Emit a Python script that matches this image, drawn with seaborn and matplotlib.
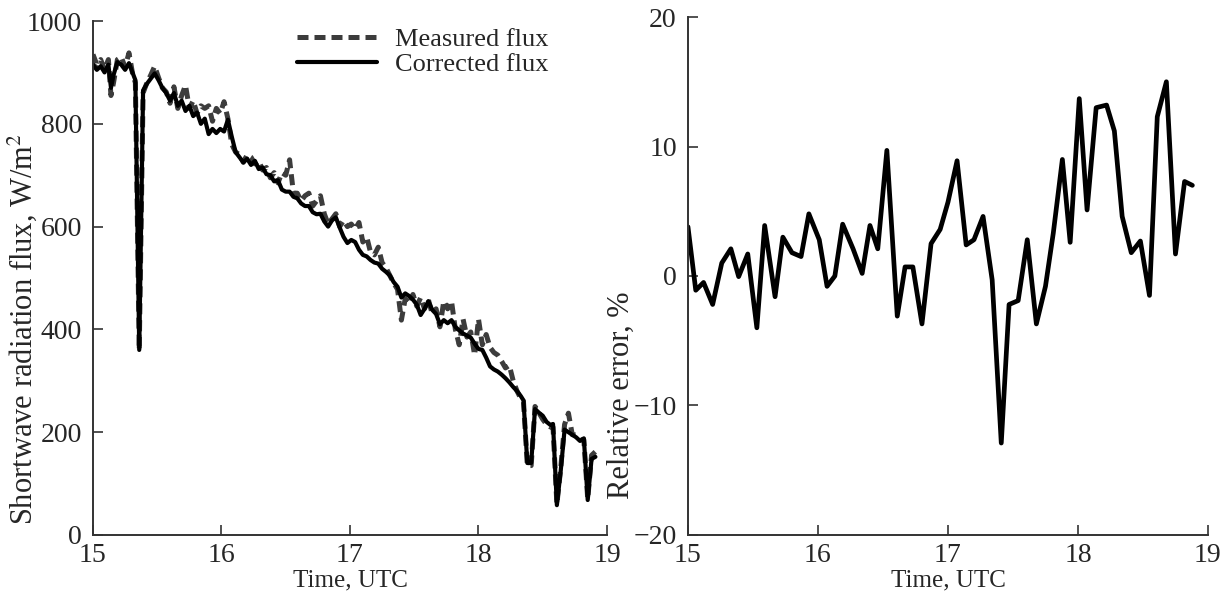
import numpy as np
import pandas as pd
import seaborn as sns
import matplotlib.pyplot as plt

# Left panel: shortwave flux (time in hours UTC)
t_flux = [15.00, 15.03, 15.06, 15.09, 15.12, 15.14, 15.16, 15.19, 15.22, 15.25,
          15.28, 15.31, 15.33, 15.36, 15.39, 15.42, 15.45, 15.48, 15.51, 15.54,
          15.57, 15.60, 15.63, 15.66, 15.69, 15.72, 15.75, 15.78, 15.81, 15.84,
          15.87, 15.90, 15.93, 15.96, 15.99, 16.02, 16.05, 16.08, 16.11, 16.14,
          16.17, 16.20, 16.23, 16.26, 16.29, 16.32, 16.35, 16.38, 16.41, 16.44,
          16.47, 16.50, 16.53, 16.56, 16.59, 16.62, 16.65, 16.68, 16.71, 16.74,
          16.77, 16.80, 16.83, 16.86, 16.89, 16.92, 16.95, 16.98, 17.01, 17.04,
          17.07, 17.10, 17.13, 17.16, 17.19, 17.22, 17.25, 17.28, 17.31, 17.34,
          17.37, 17.40, 17.43, 17.46, 17.49, 17.52, 17.55, 17.58, 17.61, 17.64,
          17.67, 17.70, 17.73, 17.76, 17.79, 17.82, 17.85, 17.88, 17.91, 17.94,
          17.97, 18.00, 18.03, 18.06, 18.09, 18.12, 18.15, 18.18, 18.21, 18.24,
          18.27, 18.30, 18.33, 18.35, 18.38, 18.41, 18.44, 18.47, 18.50, 18.53,
          18.56, 18.58, 18.61, 18.64, 18.67, 18.70, 18.73, 18.76, 18.79, 18.82,
          18.85, 18.88, 18.91]

corrected = [915, 905, 912, 900, 915, 870, 895, 920, 915, 905,
             918, 898, 885, 360, 865, 878, 888, 898, 885, 870,
             860, 845, 860, 835, 845, 825, 835, 815, 822, 800,
             810, 780, 790, 782, 790, 785, 808, 775, 745, 735,
             725, 732, 720, 728, 712, 715, 702, 700, 688, 690,
             672, 668, 668, 658, 655, 645, 640, 640, 628, 624,
             625, 610, 600, 612, 618, 598, 580, 568, 574, 570,
             555, 545, 542, 535, 530, 528, 518, 512, 505, 492,
             483, 462, 470, 465, 458, 448, 428, 440, 455, 438,
             430, 410, 418, 412, 418, 405, 398, 392, 388, 384,
             372, 362, 360, 345, 328, 322, 318, 312, 305, 297,
             288, 280, 270, 262, 140, 140, 245, 238, 232, 220,
             214, 216, 58, 125, 205, 200, 195, 190, 183, 188,
             68, 148, 152]

measured = [935, 915, 925, 905, 925, 855, 880, 925, 930, 910,
            938, 895, 880, 360, 860, 880, 895, 912, 890, 870,
            862, 840, 872, 830, 855, 875, 830, 845, 820, 835,
            830, 835, 805, 830, 820, 843, 810, 760, 745, 740,
            725, 740, 735, 722, 728, 710, 715, 695, 705, 685,
            705, 700, 730, 665, 665, 650, 660, 665, 640, 650,
            660, 625, 605, 615, 625, 600, 612, 600, 605, 595,
            608, 570, 580, 550, 545, 560, 530, 520, 505, 490,
            478, 418, 460, 450, 468, 445, 462, 440, 458, 430,
            440, 405, 455, 440, 455, 400, 370, 420, 385, 395,
            350, 420, 370, 390, 365, 355, 350, 338, 325, 330,
            300, 280, 265, 260, 135, 135, 250, 238, 225, 215,
            210, 210, 60, 130, 215, 237, 195, 195, 185, 185,
            70, 155, 162]

# Right panel: relative error
t_err = [15.00, 15.06, 15.12, 15.19, 15.26, 15.33, 15.39, 15.46, 15.53, 15.59,
         15.67, 15.73, 15.80, 15.87, 15.93, 16.01, 16.07, 16.13, 16.19, 16.27,
         16.34, 16.40, 16.46, 16.53, 16.61, 16.67, 16.73, 16.80, 16.87, 16.94,
         17.00, 17.07, 17.14, 17.20, 17.27, 17.34, 17.41, 17.47, 17.54, 17.61,
         17.68, 17.75, 17.81, 17.88, 17.94, 18.01, 18.07, 18.14, 18.22, 18.28,
         18.34, 18.41, 18.48, 18.55, 18.61, 18.68, 18.75, 18.82, 18.88]
rel_err = [3.8, -1.1, -0.5, -2.2, 1.0, 2.1, -0.05, 1.7, -4.0, 3.9,
           -1.6, 3.0, 1.8, 1.5, 4.8, 2.8, -0.8, 0.0, 4.0, 2.1,
           0.2, 3.9, 2.1, 9.7, -3.1, 0.7, 0.7, -3.7, 2.5, 3.6,
           5.7, 8.9, 2.4, 2.8, 4.6, -0.3, -12.9, -2.2, -1.9, 2.8,
           -3.7, -0.8, 3.3, 9.0, 2.6, 13.7, 5.1, 13.0, 13.2, 11.2,
           4.6, 1.8, 2.7, -1.5, 12.3, 15.0, 1.7, 7.3, 7.0]

df_flux = pd.DataFrame({'t': t_flux, 'measured': measured, 'corrected': corrected})
df_err = pd.DataFrame({'t': t_err, 'err': rel_err})

sns.set_theme(style='ticks')
plt.rcParams['font.family'] = ['Liberation Serif', 'DejaVu Serif']
plt.rcParams['mathtext.fontset'] = 'stix'

fig = plt.figure(figsize=(12.25, 5.97), dpi=100)
ax1 = fig.add_axes([0.0759, 0.1039, 0.4196, 0.8609])
ax2 = fig.add_axes([0.5616, 0.1039, 0.4245, 0.8676])

sns.lineplot(data=df_flux, x='t', y='measured', ax=ax1, color='#3c3c3c',
             linewidth=3.6, linestyle=(0, (2.2, 1.2)), label='Measured flux')
sns.lineplot(data=df_flux, x='t', y='corrected', ax=ax1, color='black',
             linewidth=3.0, label='Corrected flux')
sns.lineplot(data=df_err, x='t', y='err', ax=ax2, color='black', linewidth=3.4)

ax1.set_xlim(15, 19)
ax1.set_ylim(0, 1000)
ax1.set_yticks([0, 200, 400, 600, 800, 1000])
ax1.set_xlabel('Time, UTC', fontsize=18, labelpad=1)
ax1.set_ylabel('Shortwave radiation flux, W/m$^2$', fontsize=22)
ax1.yaxis.set_label_coords(-0.105, 0.40)
leg = ax1.legend(loc='upper right', bbox_to_anchor=(0.907, 1.007), frameon=False,
                 fontsize=19, handlelength=3.0, handletextpad=0.7,
                 labelspacing=0.05, borderaxespad=0)

ax2.set_xlim(15, 19)
ax2.set_ylim(-20, 20)
ax2.set_yticks([-20, -10, 0, 10, 20])
ax2.set_xlabel('Time, UTC', fontsize=18, labelpad=1)
ax2.set_ylabel('Relative error, %', fontsize=22)
ax2.yaxis.set_label_coords(-0.101, 0.27)

for ax in (ax1, ax2):
    ax.set_xticks([15, 16, 17, 18, 19])
    sns.despine(ax=ax)
    ax.tick_params(direction='in', length=7, width=1.2, labelsize=20,
                   color='#333333')
    ax.tick_params(axis='x', pad=6)
    ax.tick_params(axis='y', pad=8)
    for s in ('left', 'bottom'):
        ax.spines[s].set_linewidth(1.4)
        ax.spines[s].set_color('#333333')

fig.savefig('out.png', dpi=100)
